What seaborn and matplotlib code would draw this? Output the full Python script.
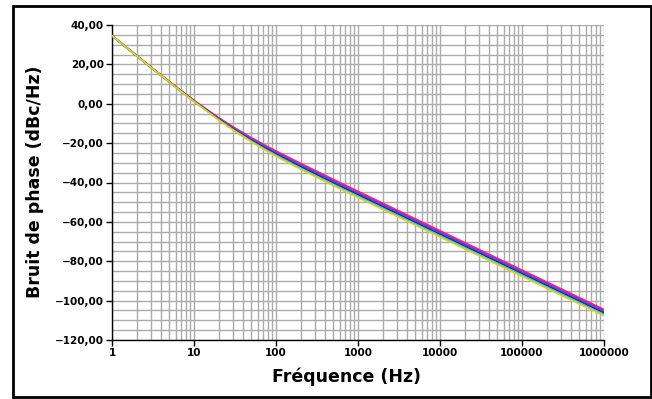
import numpy as np
import pandas as pd
import matplotlib
matplotlib.use("Agg")
import matplotlib.pyplot as plt
import seaborn as sns
from matplotlib.ticker import FixedLocator, FuncFormatter, NullFormatter, MultipleLocator
from matplotlib.patches import Rectangle

freq = [1, 2, 3, 5, 7, 10, 20, 30, 50, 70, 100, 200, 500, 1000, 10000, 100000, 1000000]
s1 = [34.55, 24.41, 18.52, 11.23, 6.53, 1.69, -7.10, -11.79, -17.23, -20.58, -23.99, -30.32, -38.42, -44.48, -64.5, -84.5, -104.5]
s2 = [34.55, 24.39, 18.49, 11.17, 6.44, 1.56, -7.36, -12.14, -17.68, -21.08, -24.51, -30.89, -39.01, -45.08, -65.1, -85.1, -105.1]
s3 = [34.54, 24.37, 18.47, 11.11, 6.35, 1.43, -7.61, -12.47, -18.10, -21.55, -25.03, -31.45, -39.60, -45.67, -65.7, -85.7, -105.7]
s4 = [34.53, 24.36, 18.44, 11.06, 6.27, 1.31, -7.86, -12.82, -18.58, -22.09, -25.63, -32.11, -40.29, -46.37, -66.4, -86.4, -106.4]
s5 = [34.53, 24.35, 18.42, 11.02, 6.21, 1.21, -8.07, -13.10, -18.96, -22.54, -26.12, -32.67, -40.88, -46.96, -67.0, -87.0, -107.0]
s6 = [34.52, 24.33, 18.40, 10.98, 6.15, 1.11, -8.28, -13.41, -19.39, -23.04, -26.69, -33.31, -41.56, -47.66, -67.7, -87.7, -107.7]
series_names = ["S1", "S2", "S3", "S4", "S5", "S6"]
series_vals = [s1, s2, s3, s4, s5, s6]
colors = ["#ff2a50", "#ff00c8", "#1f5cff", "#1a1f78", "#33c8ff", "#e6d200"]

xticks = [1, 10, 100, 1000, 10000, 100000, 1000000]
yticks = [40, 20, 0, -20, -40, -60, -80, -100, -120]

rows = []
for name, vals in zip(series_names, series_vals):
    for f, v in zip(freq, vals):
        rows.append({"freq": f, "val": v, "serie": name})
df = pd.DataFrame(rows)

sns.set_style("white")
plt.rcParams['font.family'] = ['DejaVu Sans']
plt.rcParams['text.color'] = 'black'
plt.rcParams['axes.labelcolor'] = 'black'
plt.rcParams['xtick.color'] = 'black'
plt.rcParams['ytick.color'] = 'black'

fig = plt.figure(figsize=(6.52, 3.99), dpi=100)
ax = fig.add_axes([112/652, 1-340/399, (604-112)/652, (340-25)/399])

sns.lineplot(data=df, x="freq", y="val", hue="serie", palette=colors,
             hue_order=series_names, ax=ax, linewidth=1.2, legend=False,
             estimator=None, sort=False, zorder=3)

ax.set_xscale("log")
ax.set_xlim(1, 1e6)
ax.set_ylim(-120, 40)

ax.xaxis.set_major_locator(FixedLocator(xticks))
ax.xaxis.set_major_formatter(FuncFormatter(lambda v, p: f"{int(round(v))}"))
ax.xaxis.set_minor_locator(matplotlib.ticker.LogLocator(base=10, subs=np.arange(2, 10)))
ax.xaxis.set_minor_formatter(NullFormatter())

ax.yaxis.set_major_locator(FixedLocator(yticks))
ax.yaxis.set_minor_locator(MultipleLocator(5))

def yfmt(v, p):
    s = f"{abs(v):.2f}".replace('.', ',')
    return ("\u2212" + s) if v < 0 else s
ax.yaxis.set_major_formatter(FuncFormatter(yfmt))

ax.grid(True, which="both", color="#ababab", linewidth=1.0, zorder=0)
ax.set_axisbelow(True)

for sp in ["top", "right"]:
    ax.spines[sp].set_visible(False)
for sp in ["left", "bottom"]:
    ax.spines[sp].set_color("black")
    ax.spines[sp].set_linewidth(1.0)

ax.tick_params(axis="both", which="major", direction="out", length=4, width=1,
               color="black", labelcolor="black", labelsize=7.5, pad=2,
               left=True, bottom=True)
ax.tick_params(axis="both", which="minor", length=0)
for lab in ax.get_xticklabels() + ax.get_yticklabels():
    lab.set_fontweight("bold")

ax.set_xlabel("Fréquence (Hz)", fontsize=12.5, fontweight="bold", color="black")
ax.set_ylabel("Bruit de phase (dBc/Hz)", fontsize=12.5, fontweight="bold", color="black")
ax.xaxis.set_label_coords((347 - 112) / 492, -(377 - 340) / 315, transform=ax.transAxes)
ax.xaxis.label.set_va("center")
ax.yaxis.set_label_coords(-(112 - 35) / 492, (340 - 182) / 315, transform=ax.transAxes)
ax.yaxis.label.set_va("center")

fig.patches.append(Rectangle((13, 2), 638, 391, transform=None, fill=False,
                             edgecolor="black", linewidth=2, zorder=10))

fig.savefig("out.png", dpi=100)
